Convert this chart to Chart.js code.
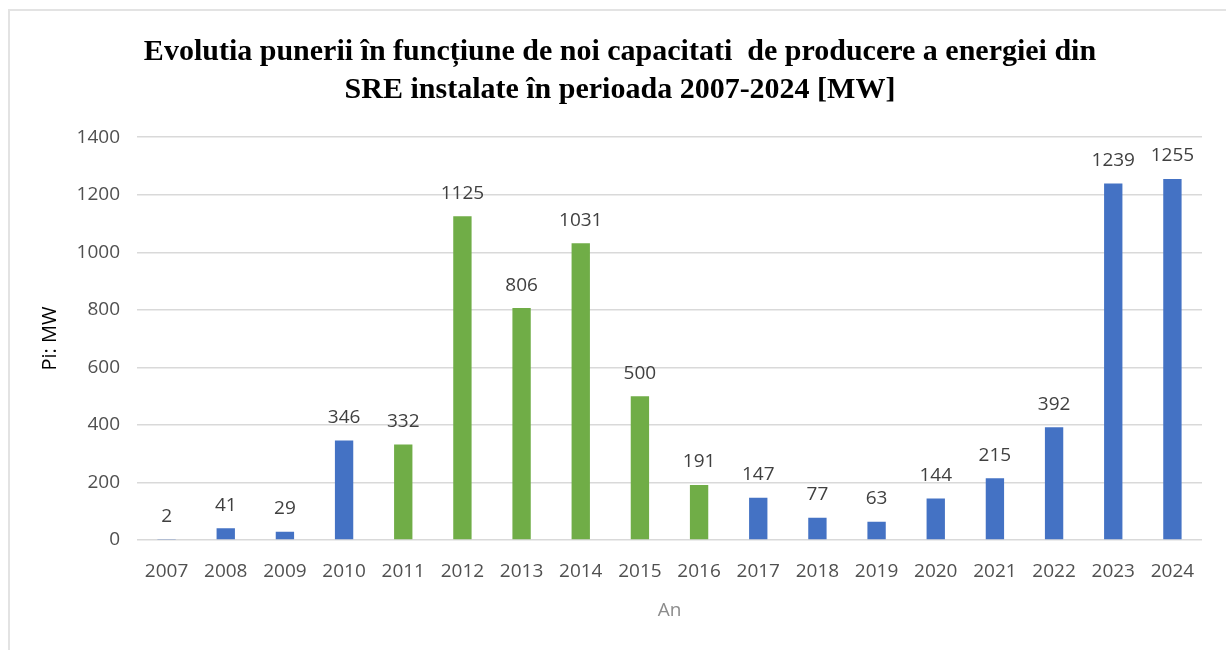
<!DOCTYPE html>
<html>
<head>
<meta charset="utf-8">
<script src="https://cdn.jsdelivr.net/npm/chart.js@4.4.1/dist/chart.umd.min.js"></script>
<style>
  html, body { margin: 0; padding: 0; background: #fff; }
  #wrap { position: relative; width: 1226px; height: 650px; overflow: hidden; }
  #frame { position: absolute; left: 8px; top: 9px; right: -5px; bottom: -5px; border-top: 2px solid #e3e3e3; border-left: 2px solid #e3e3e3; }
  canvas { position: absolute; left: 0; top: 0; }
</style>
</head>
<body>
<div id="wrap">
  <div id="frame"></div>
  <canvas id="c" width="1226" height="650"></canvas>
</div>
<script>
// ---- data ----
const years = ['2007','2008','2009','2010','2011','2012','2013','2014','2015','2016','2017','2018','2019','2020','2021','2022','2023','2024'];
const capacityMW = [2, 41, 29, 346, 332, 1125, 806, 1031, 500, 191, 147, 77, 63, 144, 215, 392, 1239, 1255];
const greenYears = ['2011','2012','2013','2014','2015','2016'];
const yTicks = [0, 200, 400, 600, 800, 1000, 1200, 1400];
const titleLines = ['Evolutia punerii în funcțiune de noi capacitati  de producere a energiei din', 'SRE instalate în perioada 2007-2024 [MW]'];

const BLUE = '#4472C4', GREEN = '#70AD47';
const barColors = years.map(y => greenYears.includes(y) ? GREEN : BLUE);

const valueLabels = {
  id: 'valueLabels',
  afterDatasetsDraw(chart) {
    const ctx = chart.ctx;
    const meta = chart.getDatasetMeta(0);
    ctx.save();
    ctx.font = '19px "Open Sans"';
    ctx.fillStyle = '#404040';
    ctx.textAlign = 'center';
    ctx.textBaseline = 'middle';
    meta.data.forEach((bar, i) => {
      ctx.fillText(String(capacityMW[i]), bar.x, bar.y - 23);
    });
    ctx.restore();
  }
};

new Chart(document.getElementById('c'), {
  type: 'bar',
  data: {
    labels: years,
    datasets: [{
      data: capacityMW,
      backgroundColor: barColors,
      borderWidth: 0,
      barPercentage: 0.31,
      categoryPercentage: 1.0
    }]
  },
  options: {
    responsive: false,
    animation: false,
    devicePixelRatio: 1,
    layout: { padding: { left: 38, right: 24, top: 0, bottom: 24 } },
    plugins: {
      legend: { display: false },
      tooltip: { enabled: false },
      title: {
        display: true,
        text: titleLines,
        color: '#000',
        font: { family: '"Liberation Serif"', size: 30, weight: 'bold', lineHeight: 1.27 },
        padding: { top: 33, bottom: 28 }
      }
    },
    scales: {
      x: {
        grid: { display: false },
        border: { display: false },
        ticks: { color: '#505050', font: { family: '"Open Sans"', size: 19 }, padding: 12, maxRotation: 0 },
        title: { display: true, text: 'An', color: '#8c8c8c', font: { family: '"Open Sans"', size: 19 }, padding: { top: 8 } },
        afterFit(scale) { scale.height = 86; }
      },
      y: {
        min: 0, max: 1400,
        afterBuildTicks(scale) { scale.ticks = yTicks.map(v => ({ value: v })); },
        grid: { color: '#d9d9d9', lineWidth: 1.5, drawTicks: false },
        border: { display: false },
        ticks: { color: '#505050', font: { family: '"Open Sans"', size: 19 }, padding: 17, callback: v => String(v) },
        title: { display: true, text: 'Pi: MW', color: '#000', font: { family: '"Open Sans"', size: 20 }, padding: 0 },
        afterFit(scale) { scale.width = 99; }
      }
    }
  },
  plugins: [valueLabels]
});
</script>
</body>
</html>
